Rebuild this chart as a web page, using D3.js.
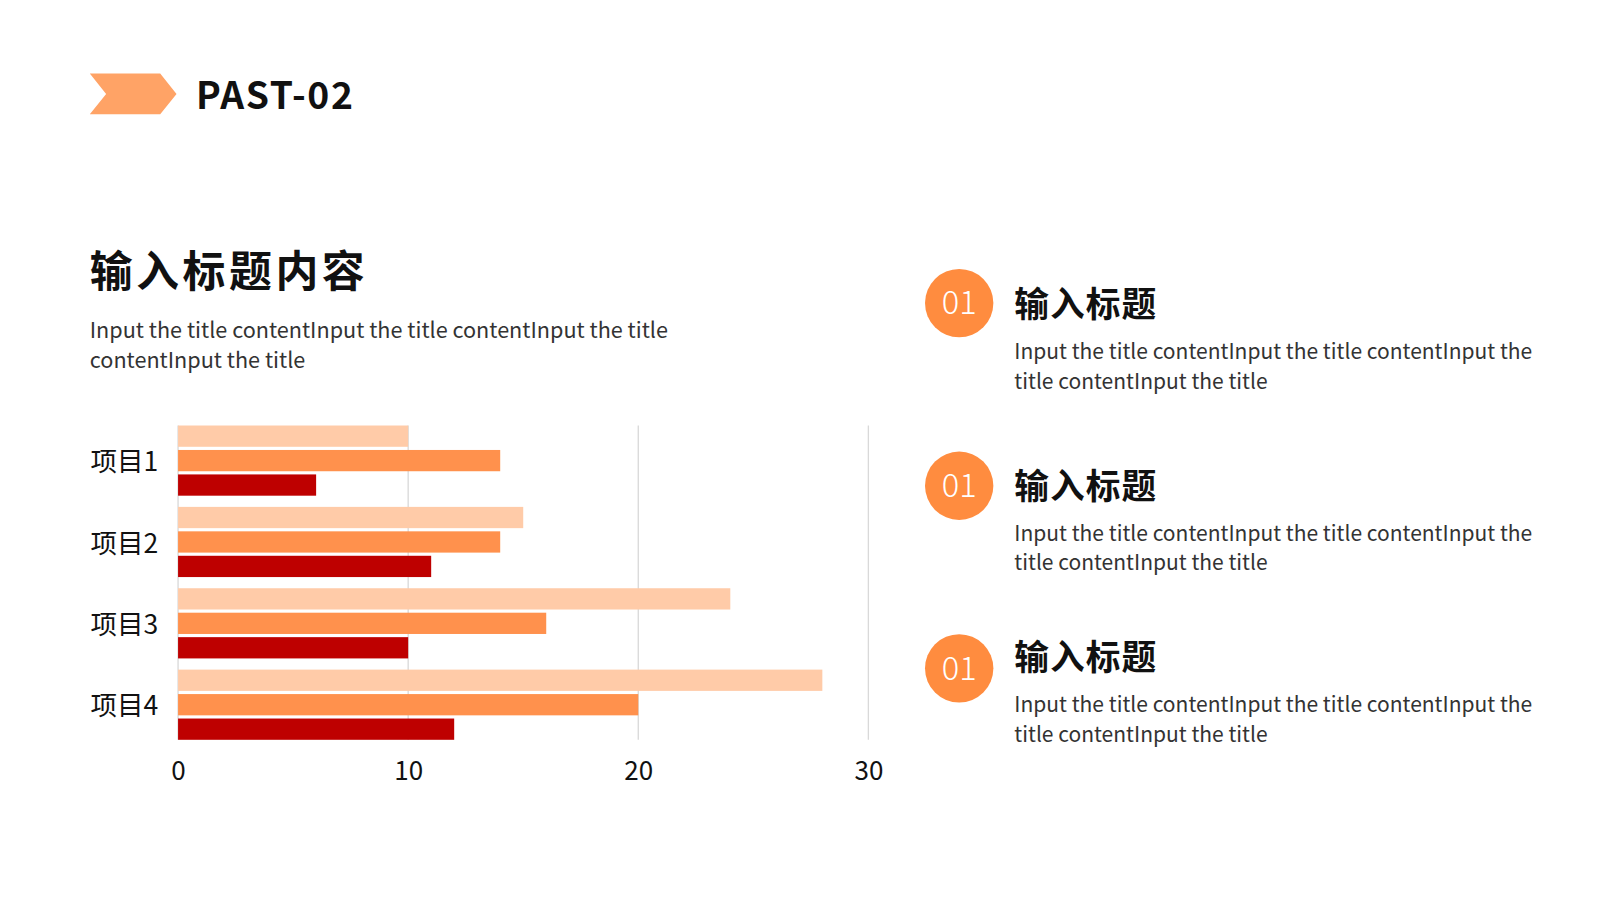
<!DOCTYPE html>
<html><head><meta charset="utf-8">
<script src="https://cdn.jsdelivr.net/npm/d3@7"></script>
<style>
html,body{margin:0;padding:0;background:#fff;}
svg{display:block;font-family:"Noto Sans CJK SC","Noto Sans",sans-serif;}
</style></head>
<body>
<svg id="c" width="1600" height="900" viewBox="0 0 1568 882"></svg>
<script>
const categories = ["项目1","项目2","项目3","项目4"];
const seriesNames = ["系列1","系列2","系列3"];
const series1 = [10, 15, 24, 28];
const series2 = [14, 14, 16, 20];
const series3 = [6, 11, 10, 12];
const xTicks = [0, 10, 20, 30];
const colors = ["#FFCBA8", "#FF914D", "#BE0000"];
const descText = ["Input the title contentInput the title contentInput the title", "contentInput the title"];
const itemTitle = "输入标题";
const itemNums = ["01","01","01"];
const itemDesc = ["Input the title contentInput the title contentInput the", "title contentInput the title"];

const svg = d3.select("#c");

// header chevron
svg.append("path")
  .attr("d","M88,72 L157,72 L173,92 L157,112 L88,112 L104,92 Z")
  .attr("fill","#FFA366");
svg.append("text").attr("x",192).attr("y",107)
  .attr("font-size",36.5).attr("font-weight",700).attr("fill","#111")
  .attr("letter-spacing",1.6)
  .text("PAST-02");

// main title
svg.append("text").attr("x",88).attr("y",281)
  .attr("font-size",42).attr("font-weight",700).attr("fill","#111")
  .attr("letter-spacing",3.5)
  .text("输入标题内容");
descText.forEach((t,i)=>{
  svg.append("text").attr("x",88).attr("y",331+i*30)
    .attr("font-size",21.2).attr("fill","#333").text(t);
});

// chart
const x = d3.scaleLinear().domain([0,30]).range([174.5,851]);
const y = d3.scaleBand().domain(categories).range([417,725]).paddingInner(0.1375).paddingOuter(0);
const ySub = d3.scaleBand().domain(seriesNames).range([0,y.bandwidth()]).paddingInner(0.13);
const data = [series1, series2, series3];

const g = svg.append("g");
// gridlines
g.selectAll("line.grid").data(xTicks).join("line")
  .attr("x1",d=>x(d)).attr("x2",d=>x(d))
  .attr("y1",417).attr("y2",725)
  .attr("stroke","#D9D9D9").attr("stroke-width",1.3);

categories.forEach((c,ci)=>{
  seriesNames.forEach((s,si)=>{
    g.append("rect")
      .attr("x",x(0)).attr("y",y(c)+ySub(s))
      .attr("width",x(data[si][ci])-x(0))
      .attr("height",ySub.bandwidth())
      .attr("fill",colors[si]);
  });
});

// axes labels
const xAxis = d3.axisBottom(x).tickValues(xTicks).tickSize(0).tickPadding(0);
const xa = svg.append("g").attr("transform","translate(0,746)").call(xAxis);
xa.select(".domain").remove();
xa.selectAll("text").attr("font-size",25.5).attr("fill","#111")
  .attr("font-family","\"Noto Sans CJK SC\",\"Noto Sans\",sans-serif")
  .attr("dy","0.71em");

const yAxis = d3.axisLeft(y).tickSize(0).tickPadding(0);
const ya = svg.append("g").attr("transform","translate(155,2)").call(yAxis);
ya.select(".domain").remove();
ya.selectAll("text").attr("font-size",26).attr("fill","#111")
  .attr("font-family","\"Noto Sans CJK SC\",\"Noto Sans\",sans-serif");

// right items
const circleY = [297, 476, 655];
const textY = [299, 477, 645];
itemNums.forEach((n,i)=>{
  const cy = circleY[i], ty = textY[i];
  svg.append("circle").attr("cx",940).attr("cy",cy).attr("r",33.5).attr("fill","#FF8C3F");
  svg.append("text").attr("x",940).attr("y",cy+11).attr("text-anchor","middle")
    .attr("font-size",32).attr("font-weight",300).attr("fill","#fff").text(n);
  svg.append("text").attr("x",994).attr("y",ty+12)
    .attr("font-size",34).attr("font-weight",700).attr("fill","#111")
    .attr("letter-spacing",1).text(itemTitle);
  itemDesc.forEach((t,j)=>{
    svg.append("text").attr("x",994).attr("y",ty+53+j*29)
      .attr("font-size",20.6).attr("fill","#333").text(t);
  });
});
</script>
</body></html>
